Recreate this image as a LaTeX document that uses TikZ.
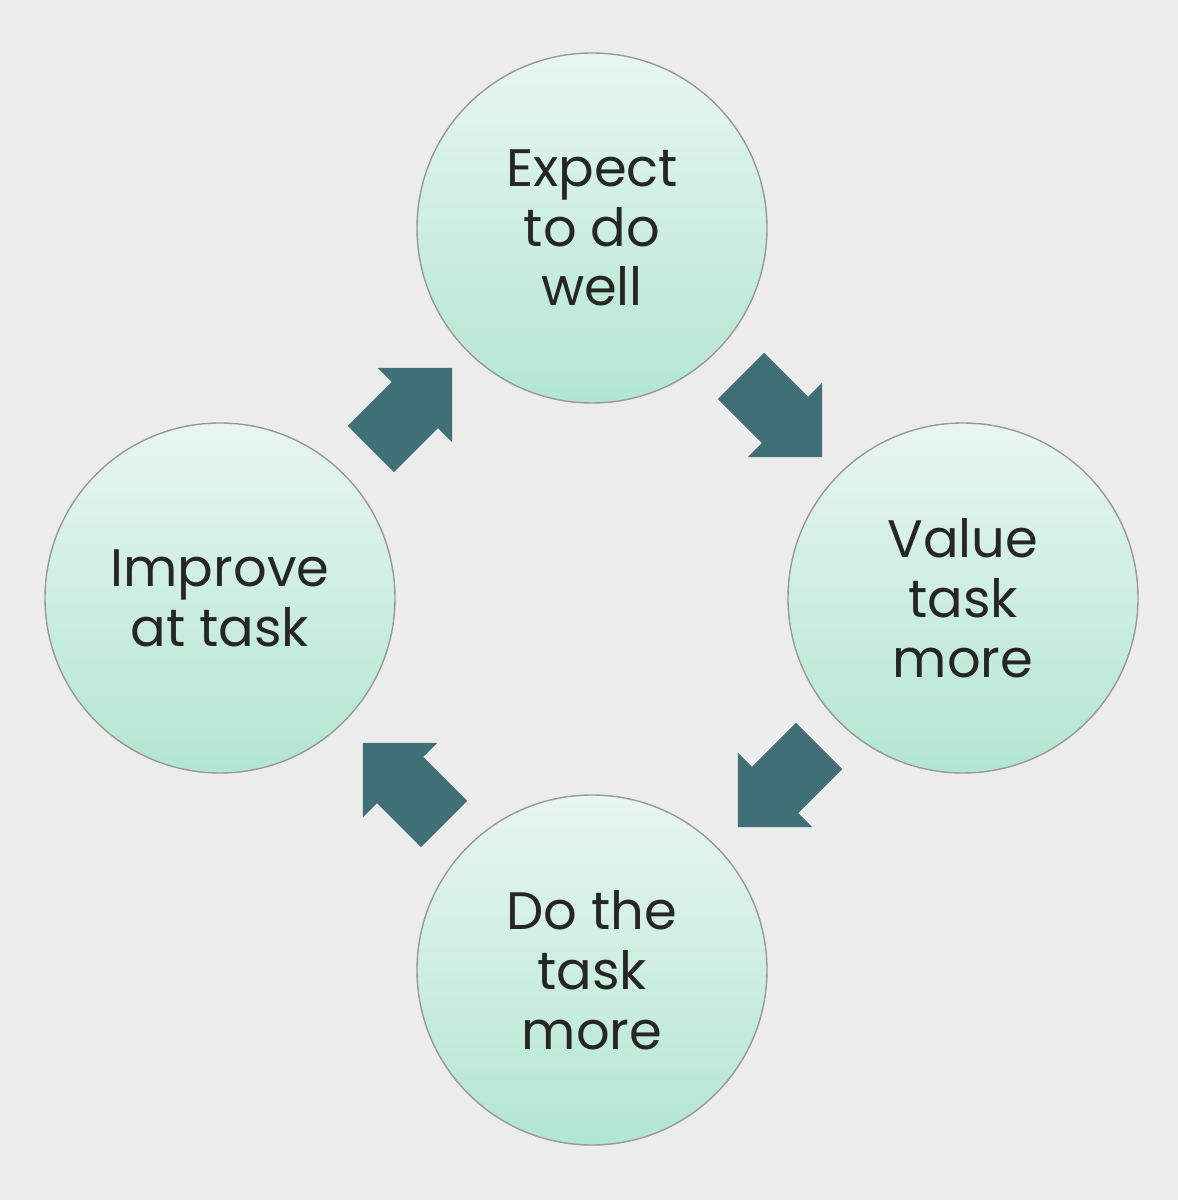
\documentclass[tikz,border=0pt]{standalone}
\usepackage{fontspec}
\setmainfont{Poppins}
\usetikzlibrary{shapes.arrows}
\definecolor{mintlight}{RGB}{232,246,240}
\definecolor{mintdark}{RGB}{178,230,208}
\definecolor{arrowteal}{RGB}{64,111,119}
\definecolor{backgray}{RGB}{236,236,236}
\begin{document}
\begin{tikzpicture}[
    stage/.style={circle, draw=gray!80, minimum size=3.5cm, align=center,
      top color=mintlight, bottom color=mintdark, font=\fontsize{15}{17}\selectfont,
      text=black!85},
    blockarrow/.style={single arrow, fill=arrowteal, minimum height=1.15cm,
      inner xsep=0pt, inner ysep=0.32cm, single arrow head extend=0.2cm,
      single arrow tip angle=90}
]
\fill[backgray] (0,0) rectangle (11.78,12);

% Stages
\node[stage] (expect) at (5.92,9.72) {Expect\\to do\\well};
\node[stage] (value) at (9.63,6.02) {Value\\task\\more};
\node[stage] (dotask) at (5.92,2.30) {Do the\\task\\more};
\node[stage] (improve) at (2.20,6.02) {Improve\\at task};

% Arrows
\node[blockarrow, rotate=-45] (a1) at (7.70,7.95) {};
\node[blockarrow, rotate=-135] (a2) at (7.90,4.25) {};
\node[blockarrow, rotate=135] (a3) at (4.15,4.05) {};
\node[blockarrow, rotate=45] (a4) at (4.00,7.80) {};

\end{tikzpicture}
\end{document}
